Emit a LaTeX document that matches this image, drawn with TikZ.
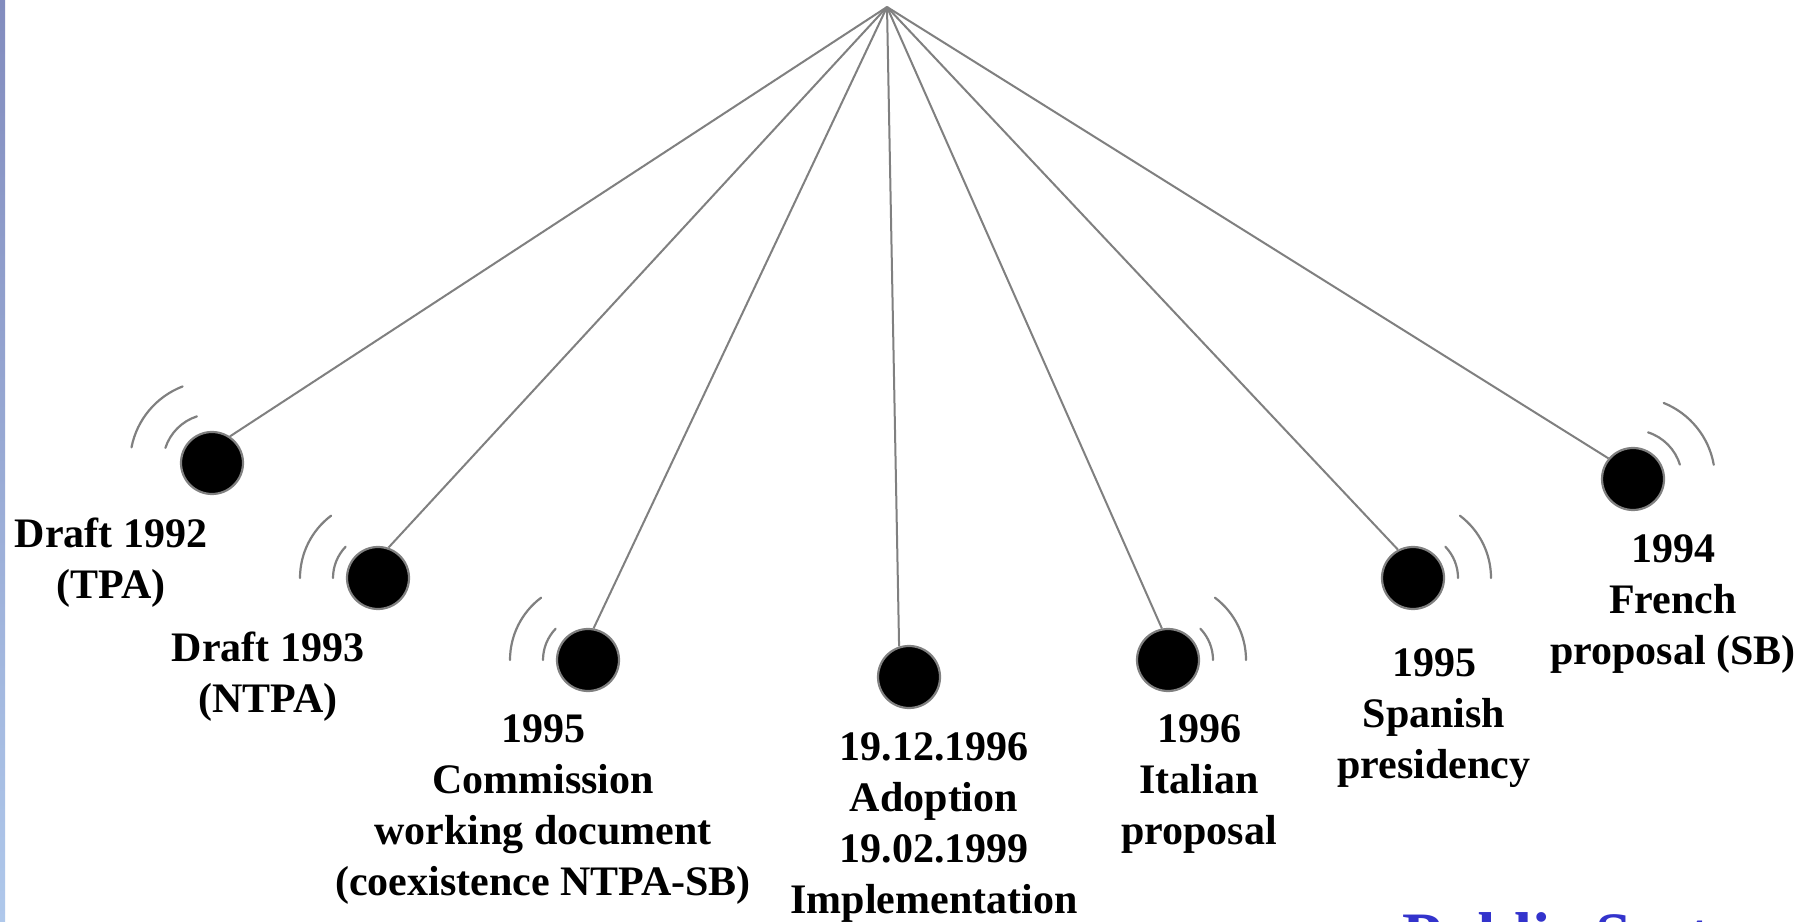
\documentclass[tikz,border=0pt]{standalone}
\usepackage{fontspec}
\setmainfont{Liberation Serif}
\usetikzlibrary{calc}
\definecolor{linegray}{RGB}{128,128,128}
\definecolor{pubblue}{RGB}{51,51,204}
\definecolor{stripTop}{RGB}{130,140,190}
\definecolor{stripMid}{RGB}{140,160,215}
\definecolor{stripBot}{RGB}{175,200,235}
\begin{document}
\begin{tikzpicture}[x=0.5pt,y=0.5pt,
  dot/.style={circle,fill=black,draw=linegray,line width=1.1pt,minimum size=31pt,inner sep=0pt},
  conn/.style={draw=linegray,line width=1pt},
  wave/.style={draw=linegray,line width=1.1pt,line cap=round},
  lbl/.style={anchor=north,align=center,inner sep=0pt,font=\fontsize{21}{25.5}\selectfont\bfseries}]
\useasboundingbox (0,0) rectangle (1802,921);
\clip (0,0) rectangle (1802,921);
\fill[white] (0,0) rectangle (1802,921);
\shade[top color=stripTop,middle color=stripMid,bottom color=stripBot] (0,0) rectangle (5,921);

\coordinate (apex) at (887,914);

\node[dot] (n1) at (212,458) {};
\node[dot] (n2) at (378,343) {};
\node[dot] (n3) at (588,261) {};
\node[dot] (n4) at (909,244) {};
\node[dot] (n5) at (1168,261) {};
\node[dot] (n6) at (1413,343) {};
\node[dot] (n7) at (1633,442) {};

\draw[conn] (apex) -- (n1.56);
\draw[conn] (apex) -- (n2.71);
\draw[conn] (apex) -- (n3.80);
\draw[conn] (apex) -- (n4.108);
\draw[conn] (apex) -- (n5.101);
\draw[conn] (apex) -- (n6.118);
\draw[conn] (apex) -- (n7.140);

% waves
\draw[wave] (n1.center) ++(108:49) arc[start angle=108,end angle=162,radius=49];
\draw[wave] (n1.center) ++(111:82) arc[start angle=111,end angle=169,radius=82];
\draw[wave] (n2.center) ++(136:45) arc[start angle=136,end angle=180,radius=45];
\draw[wave] (n2.center) ++(127:78) arc[start angle=127,end angle=180,radius=78];
\draw[wave] (n3.center) ++(136:45) arc[start angle=136,end angle=180,radius=45];
\draw[wave] (n3.center) ++(127:78) arc[start angle=127,end angle=180,radius=78];
\draw[wave] (n5.center) ++(44:45) arc[start angle=44,end angle=0,radius=45];
\draw[wave] (n5.center) ++(53:78) arc[start angle=53,end angle=0,radius=78];
\draw[wave] (n6.center) ++(44:45) arc[start angle=44,end angle=0,radius=45];
\draw[wave] (n6.center) ++(53:78) arc[start angle=53,end angle=0,radius=78];
\draw[wave] (n7.center) ++(72:49) arc[start angle=72,end angle=17,radius=49];
\draw[wave] (n7.center) ++(68:82) arc[start angle=68,end angle=10,radius=82];

% labels
\node[lbl] (l1) at (111,403) {Draft 1992\\(TPA)};
\node[lbl] (l2) at (268,289) {Draft 1993\\(NTPA)};
\node[lbl] (l3) at (543,207) {1995\\Commission\\working document\\(coexistence NTPA-SB)};
\node[lbl] (l4) at (934,189) {19.12.1996\\Adoption\\19.02.1999\\Implementation};
\node[lbl] (l5) at (1199,207) {1996\\Italian\\proposal};
\node[lbl] (l6) at (1434,273) {1995\\Spanish\\presidency};
\node[lbl] (l7) at (1673,387) {1994\\French\\proposal (SB)};

\node[anchor=base west,inner sep=0pt,text=pubblue,font=\fontsize{32.4}{39}\selectfont\bfseries] (pub) at (1402,-36) {Public Sector};
\end{tikzpicture}
\end{document}
